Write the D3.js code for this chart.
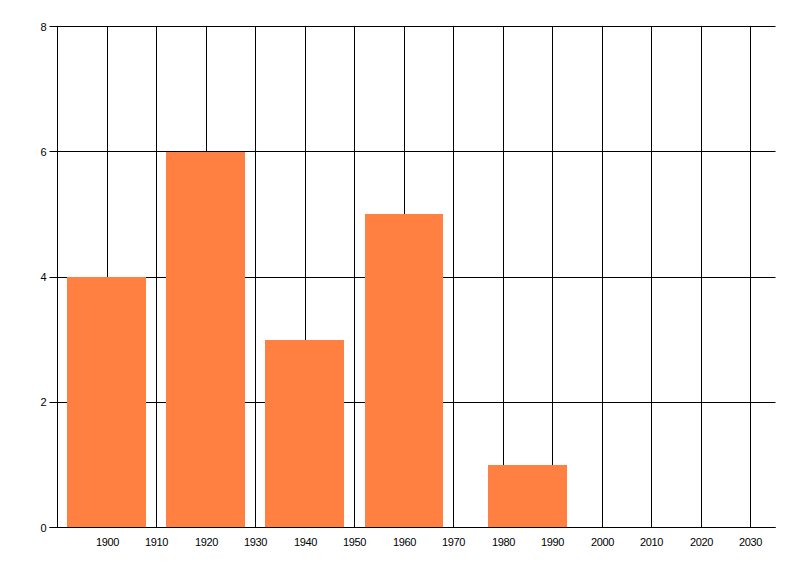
<!DOCTYPE html>
<html>
<head>
<meta charset="utf-8">
<script src="https://cdn.jsdelivr.net/npm/d3@7"></script>
<style>
  html, body { margin: 0; padding: 0; background: #fff; }
  svg { display: block; }
  text { font-family: "Liberation Sans", Arial, sans-serif; font-size: 11px; fill: #000; }
</style>
</head>
<body>
<svg id="chart" width="800" height="576"></svg>
<script>
const years = [1900, 1920, 1940, 1960, 1985];
const values = [4, 6, 3, 5, 1];
const barWidthYears = 16;
const xTicks = [1900, 1910, 1920, 1930, 1940, 1950, 1960, 1970, 1980, 1990, 2000, 2010, 2020, 2030];
const yTicks = [0, 2, 4, 6, 8];
const xDomain = [1890, 2035];
const yDomain = [0, 8];

const svg = d3.select("#chart");
const x = d3.scaleLinear().domain(xDomain).range([57.5, 775.5]);
const y = d3.scaleLinear().domain(yDomain).range([527.5, 26.5]);
const px = v => Math.floor(v) + 0.5;

const grid = svg.append("g");
// vertical gridlines
grid.selectAll("line.v").data(xTicks).join("line")
  .attr("x1", d => px(x(d))).attr("x2", d => px(x(d)))
  .attr("y1", px(y(8))).attr("y2", px(y(0)))
  .attr("stroke", "#000").attr("stroke-width", 1);
// horizontal gridlines + y ticks
grid.selectAll("line.h").data(yTicks).join("line")
  .attr("x1", x(xDomain[0]) - 8).attr("x2", x(xDomain[1]))
  .attr("y1", d => px(y(d))).attr("y2", d => px(y(d)))
  .attr("stroke", "#000").attr("stroke-width", 1);

// bars
const data = years.map((yr, i) => ({ yr, v: values[i] }));
svg.append("g").selectAll("rect").data(data).join("rect")
  .attr("x", d => Math.round(x(d.yr - barWidthYears / 2)))
  .attr("width", d => Math.floor(x(d.yr + barWidthYears / 2)) - Math.round(x(d.yr - barWidthYears / 2)))
  .attr("y", d => Math.round(y(d.v)))
  .attr("height", d => Math.round(y(0)) - Math.round(y(d.v)))
  .attr("fill", "#ff8040")
  .attr("shape-rendering", "crispEdges");

// axes lines
svg.append("line")
  .attr("x1", px(x(xDomain[0]))).attr("x2", px(x(xDomain[0])))
  .attr("y1", px(y(8))).attr("y2", px(y(0)) + 0.5)
  .attr("stroke", "#000");
svg.append("line")
  .attr("x1", x(xDomain[0]) - 8).attr("x2", x(xDomain[1]))
  .attr("y1", px(y(0))).attr("y2", px(y(0)))
  .attr("stroke", "#000");

// y labels
svg.append("g").selectAll("text").data(yTicks).join("text")
  .attr("x", x(xDomain[0]) - 11)
  .attr("y", d => y(d) + 4)
  .attr("text-anchor", "end")
  .text(d => d);

// x labels
svg.append("g").selectAll("text").data(xTicks).join("text")
  .attr("x", d => px(x(d)))
  .attr("y", y(0) + 18)
  .attr("text-anchor", "middle")
  .attr("letter-spacing", "-0.4px")
  .text(d => d);
</script>
</body>
</html>
